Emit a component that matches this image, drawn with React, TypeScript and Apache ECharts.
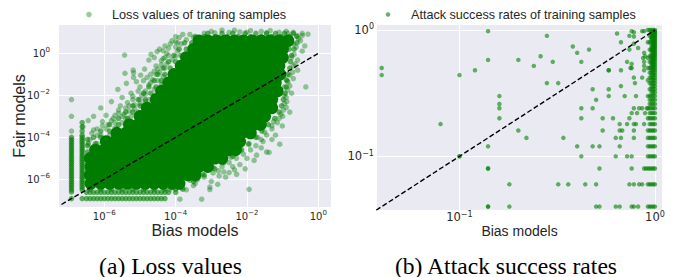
import React, { useEffect, useRef } from "react";
import * as echarts from "echarts";

const SANS = "'Liberation Sans', Arial, Helvetica, sans-serif";
const MATH = "'DejaVu Sans', sans-serif";
const SERIF = "'Liberation Serif', 'Times New Roman', serif";
const INK = "#262626";

// ---------------- (a) Loss values : values stored as log10 exponents ----------------
// saturated core of the cloud: [log10 fair, [log10 bias ...]]
const lossCoreRows: [number, number[]][] = [
  [0.6, [-3.35, -3.1, -2.85, -2.6, -2.35, -2.1, -1.85, -1.6, -1.35, -1.1, -0.85]],
  [0.2, [-3.5, -3.25, -3.0, -2.75, -2.5, -2.25, -2.0, -1.75, -1.5, -1.25, -1.0]],
  [-0.2, [-3.7, -3.45, -3.2, -2.95, -2.7, -2.45, -2.2, -1.95, -1.7, -1.45, -1.2, -1.0]],
  [-0.6, [-3.85, -3.6, -3.35, -3.1, -2.85, -2.6, -2.35, -2.1, -1.85, -1.6, -1.35, -1.1]],
  [-1.0, [-4.05, -3.8, -3.55, -3.3, -3.05, -2.8, -2.55, -2.3, -2.05, -1.8, -1.55, -1.3, -1.07]],
  [-1.4, [-4.2, -3.95, -3.7, -3.45, -3.2, -2.95, -2.7, -2.45, -2.2, -1.95, -1.7, -1.45, -1.2]],
  [-1.8, [-4.4, -4.15, -3.9, -3.65, -3.4, -3.15, -2.9, -2.65, -2.4, -2.15, -1.9, -1.65, -1.4, -1.15]],
  [-2.2, [-4.55, -4.3, -4.05, -3.8, -3.55, -3.3, -3.05, -2.8, -2.55, -2.3, -2.05, -1.8, -1.55, -1.3]],
  [-2.6, [-4.8, -4.55, -4.3, -4.05, -3.8, -3.55, -3.3, -3.05, -2.8, -2.55, -2.3, -2.05, -1.8, -1.55, -1.3]],
  [-3.0, [-5.0, -4.75, -4.5, -4.25, -4.0, -3.75, -3.5, -3.25, -3.0, -2.75, -2.5, -2.25, -2.0, -1.75, -1.5]],
  [-3.4, [-5.3, -5.05, -4.8, -4.55, -4.3, -4.05, -3.8, -3.55, -3.3, -3.05, -2.8, -2.55, -2.3, -2.05, -1.8, -1.62]],
  [-3.8, [-5.65, -5.4, -5.15, -4.9, -4.65, -4.4, -4.15, -3.9, -3.65, -3.4, -3.15, -2.9, -2.65, -2.4, -2.15, -1.9]],
  [-4.2, [-5.95, -5.7, -5.45, -5.2, -4.95, -4.7, -4.45, -4.2, -3.95, -3.7, -3.45, -3.2, -2.95, -2.7, -2.45, -2.2]],
  [-4.6, [-6.25, -6.0, -5.75, -5.5, -5.25, -5.0, -4.75, -4.5, -4.25, -4.0, -3.75, -3.5, -3.25, -3.0, -2.75, -2.5, -2.32]],
  [-5.0, [-6.4, -6.15, -5.9, -5.65, -5.4, -5.15, -4.9, -4.65, -4.4, -4.15, -3.9, -3.65, -3.4, -3.15, -2.9, -2.7]],
  [-5.4, [-6.38, -6.1, -5.85, -5.6, -5.35, -5.1, -4.85, -4.6, -4.35, -4.1, -3.85, -3.6, -3.35, -3.1]],
  [-5.8, [-6.4, -6.15, -5.9, -5.65, -5.4, -5.15, -4.9, -4.65, -4.4, -4.15, -3.9, -3.65, -3.45]],
  [-6.2, [-6.38, -6.1, -5.85, -5.6, -5.35, -5.1, -4.85, -4.6, -4.35, -4.1, -3.9]],
];

// dense rim of the cloud and the floor rows: [log10 fair, [log10 bias ...]]
const lossRimRows: [number, number[]][] = [
  [0.95, [-3.1, -2.7, -2.4, -2.05, -1.75, -1.45, -1.2, -0.95, -0.7]],
  [0.8, [-3.45, -3.2, -2.9, -2.55, -2.25, -1.9, -1.6, -1.3, -1.05, -0.8, -0.6]],
  [0.5, [-3.75, -3.55, -0.6, -0.75]],
  [0.2, [-3.9, -3.7, -0.68, -0.82]],
  [-0.1, [-4.05, -3.85, -0.75]],
  [-0.4, [-4.2, -4.0, -0.78]],
  [-0.7, [-4.35, -4.15, -0.8]],
  [-1.0, [-4.5, -4.3, -0.85]],
  [-1.3, [-4.6, -4.4, -0.88]],
  [-1.6, [-4.75, -4.55, -0.9]],
  [-1.9, [-4.9, -4.7, -0.93]],
  [-2.2, [-5.05, -4.85, -0.98]],
  [-2.5, [-5.2, -5.0, -1.03]],
  [-2.8, [-5.4, -5.2, -1.1]],
  [-3.1, [-5.6, -5.35, -1.22]],
  [-3.4, [-5.85, -5.6, -1.4]],
  [-3.7, [-6.1, -5.85, -1.58]],
  [-4.0, [-6.3, -6.1, -1.75]],
  [-4.3, [-6.45, -6.25, -1.95]],
  [-4.6, [-2.15]],
  [-4.9, [-2.4]],
  [-5.2, [-2.65]],
  [-5.5, [-2.9]],
  [-5.8, [-3.2]],
  [-6.1, [-3.5]],
  [-6.35, [-3.85]],
  [-6.47, [-6.4, -6.1, -5.8, -5.5, -5.2, -4.9, -4.6, -4.3, -4.0, -3.8]],
  [-6.62, [-6.5, -6.4, -6.3, -6.2, -6.1, -6.0, -5.9, -5.8, -5.7, -5.6, -5.5, -5.4, -5.3, -5.2, -5.1, -5.0, -4.9, -4.8, -4.7, -4.6, -4.5, -4.4, -4.3, -4.2, -4.0]],
  [-6.92, [-6.92, -6.62, -6.5, -6.4, -6.3, -6.2, -6.1, -6.0, -5.9, -5.8, -5.7, -5.6, -5.5, -5.4, -5.3, -5.2, -5.1, -5.0, -4.9, -4.8, -4.7, -4.6, -4.5, -4.4, -4.3]],
];

// floor columns of the bias model: [log10 bias, [log10 fair ...]]
const lossFloorColumns: [number, number[]][] = [
  [-6.92, [-6.6, -6.5, -6.4, -6.3, -6.2, -6.1, -6.0, -5.9, -5.8, -5.7, -5.6, -5.5, -5.4, -5.3, -5.2, -5.1, -5.0, -4.9, -4.8, -4.7, -4.6, -4.5, -4.4, -4.3, -4.2, -4.1, -4.0]],
  [-6.62, [-6.5, -6.4, -6.3, -6.2, -6.1, -6.0, -5.9, -5.8, -5.7, -5.6, -5.5, -5.4, -5.3, -5.2, -5.1, -5.0, -4.9, -4.8, -4.7, -4.6, -4.5, -4.4, -4.3, -4.2, -4.1, -4.0, -3.9, -3.7, -3.5, -3.3]],
  [-6.47, [-6.2, -5.9, -5.6, -5.3, -5.0, -4.7, -4.4, -4.1]],
];

// isolated samples around the cloud: [log10 bias, log10 fair]
const lossSparse: [number, number][] = [
  [-6.92, -2.2], [-6.92, -3.0], [-6.92, -3.7],
  [-5.43, -0.08], [-5.42, -0.95], [-5.62, -1.72], [-5.18, -0.93], [-5.18, -1.15], [-5.38, -1.43], [-4.98, -1.04],
  [-4.75, -0.32], [-4.69, -0.05], [-4.52, 0.08], [-4.35, 0.12], [-4.87, -0.75], [-5.19, -0.8],
  [-4.55, -0.6], [-4.4, -0.35], [-4.6, -0.2], [-4.45, -0.9], [-4.7, -1.0], [-4.3, -0.7], [-4.3, 0.35], [-4.0, 0.3], [-4.2, -0.1],
  [-3.6, 0.9], [-3.9, 0.75], [-4.1, 0.6], [-3.85, 0.45],
  [-4.9, -1.3], [-5.0, -1.6], [-4.75, -1.5], [-4.85, -1.8], [-5.25, -1.9], [-4.95, -2.0], [-5.1, -1.35],
  [-5.8, -2.3], [-5.5, -2.1], [-5.3, -2.5], [-5.6, -2.7], [-5.2, -2.2], [-5.45, -2.9], [-6.1, -2.6], [-5.15, -2.65], [-5.35, -2.35],
  [-5.95, -2.95], [-5.75, -3.1], [-6.3, -3.0], [-6.45, -3.2], [-6.2, -3.6], [-5.9, -3.4], [-6.05, -3.25], [-6.35, -3.8], [-5.7, -3.55], [-6.6, -3.5],
  [-3.95, 0.1], [-4.1, -0.3], [-4.25, -0.5], [-4.0, -0.15], [-4.15, 0.45], [-3.7, 0.65], [-3.5, 0.75], [-4.35, -1.1], [-4.5, -1.3],
  [-4.6, -1.7], [-4.4, -1.5], [-4.75, -2.2], [-4.6, -2.0], [-4.9, -2.5], [-5.05, -2.8], [-4.85, -2.3], [-5.25, -3.0], [-5.5, -3.3],
  [-5.4, -3.1], [-5.65, -3.6], [-5.85, -3.9], [-6.0, -4.1], [-6.2, -4.3], [-6.1, -3.9], [-5.55, -2.5], [-5.7, -2.95], [-5.0, -2.4],
  [-4.65, -1.25], [-4.5, -0.75], [-4.3, -0.2], [-4.45, 0.2], [-3.8, 0.9], [-4.0, 0.8],
  [-4.0, 0.55], [-4.25, 0.0], [-4.4, -0.55], [-4.55, -1.0], [-4.7, -1.4], [-4.85, -1.95], [-5.0, -2.2], [-5.15, -2.45], [-5.3, -2.75],
  [-5.5, -3.0], [-5.7, -3.3], [-5.95, -3.6], [-6.2, -3.9], [-6.4, -4.1], [-3.95, 0.5], [-4.2, 0.25], [-4.35, -0.25], [-4.6, -0.85],
  [-4.8, -1.15], [-5.05, -1.8], [-5.2, -2.05], [-5.4, -2.6], [-5.6, -2.85], [-5.8, -3.2], [-6.05, -3.45], [-6.3, -3.65],
  [-3.2, 0.95], [-2.9, 0.98], [-2.5, 1.0], [-2.2, 1.02], [-1.9, 1.08], [-1.6, 1.05], [-1.35, 1.08], [-1.1, 1.0], [-0.9, 1.05], [-0.7, 1.0], [-0.29, 0.91], [-0.6, 0.85],
  [-3.0, 1.05], [-2.7, 1.1], [-2.35, 1.1], [-2.0, 1.0], [-1.45, 0.98], [-0.85, 0.95], [-0.45, 0.95],
  [-0.38, 0.35], [-0.45, 0.1], [-0.5, 0.6], [-0.58, -0.32], [-0.58, -0.8], [-0.65, -0.5], [-0.75, -0.2], [-0.7, -1.2], [-0.8, -1.04], [-0.85, -1.36], [-0.75, -1.9], [-0.86, -1.75], [-0.95, -1.6], [-0.35, -1.6],
  [-0.9, -2.1], [-0.95, -2.4], [-0.9, -2.58], [-0.8, -2.8], [-1.0, -3.0], [-1.1, -3.1], [-1.01, -3.46], [-1.2, -3.9], [-1.08, -4.33], [-1.3, -4.1], [-1.55, -4.2],
  [-1.45, -4.7], [-1.38, -4.72], [-1.6, -4.5], [-1.73, -4.85], [-1.8, -5.1], [-2.0, -5.0], [-2.2, -5.3], [-2.4, -5.4], [-2.29, -5.76], [-2.5, -5.68], [-2.6, -5.9],
  [-2.78, -5.84], [-2.8, -5.6], [-3.0, -6.1], [-2.82, -6.24], [-3.39, -6.01], [-3.04, -6.37], [-3.04, -6.49], [-3.5, -6.3], [-3.7, -6.5], [-4.16, -6.48], [-1.94, -6.48],
  [-1.05, -2.9], [-1.15, -3.3], [-1.3, -3.6], [-1.45, -3.9], [-1.6, -4.1], [-1.75, -4.4], [-1.9, -4.6], [-2.1, -4.8], [-2.3, -5.0],
  [-2.5, -5.2], [-2.7, -5.4], [-2.95, -5.7], [-3.2, -5.9], [-3.45, -6.2], [-3.8, -6.4], [-2.05, -5.5], [-2.35, -5.55], [-2.65, -5.65],
  [-1.25, -3.25], [-0.95, -2.0], [-0.9, -1.25], [-0.7, -0.6], [-0.62, 0.3], [-0.55, 0.7], [-0.45, 0.85],
  [-1.3, -3.45], [-1.5, -3.75], [-1.7, -4.0], [-1.95, -4.35], [-2.2, -4.6], [-2.45, -4.95], [-2.7, -5.2], [-2.95, -5.45], [-3.25, -5.75],
  [-3.6, -6.05], [-4.0, -6.3], [-0.7, 0.45], [-0.68, -0.05], [-0.72, -0.9], [-0.8, -1.55], [-0.88, -2.3], [-0.98, -2.7],
  [-3.27, -6.95], [-3.88, -6.95],
];
const lossDiagonal = [6.3e-8, 1];
const lossTicks = [1e-6, 1e-4, 1e-2, 1];

// ---------------- (b) Attack success rates ----------------
const asrScatter: [number, number][] = [
  [0.04, 0.5], [0.04, 0.44], [0.1, 0.44], [0.12, 0.48], [0.14, 0.98], [0.14, 0.58],
  [0.2, 0.58], [0.24, 0.52], [0.26, 0.62], [0.28, 0.9], [0.3, 0.56], [0.38, 0.74],
  [0.4, 0.66], [0.42, 0.56], [0.46, 0.7], [0.28, 0.38], [0.32, 0.38],
  [0.16, 0.3], [0.16, 0.26], [0.16, 0.24], [0.16, 0.2], [0.08, 0.18],
  [0.64, 0.94], [0.67, 0.8], [0.74, 0.7], [0.58, 0.48], [0.58, 0.48], [0.67, 0.48],
  [0.48, 0.34], [0.58, 0.34], [0.42, 0.24], [0.48, 0.24], [0.58, 0.3], [0.7, 0.3], [0.5, 0.28],
  [0.42, 0.2], [0.54, 0.2], [0.61, 0.2], [0.74, 0.2], [0.67, 0.36], [0.8, 0.3],
  [0.2, 0.16], [0.54, 0.16], [0.66, 0.16], [0.68, 0.16], [0.78, 0.16],
  [0.22, 0.14], [0.34, 0.14], [0.63, 0.14], [0.67, 0.14], [0.78, 0.14],
  [0.66, 0.18], [0.72, 0.18], [0.78, 0.18], [0.8, 0.18], [0.88, 0.18],
  [0.76, 0.22], [0.81, 0.22], [0.89, 0.22],
  [0.78, 0.24], [0.83, 0.24], [0.86, 0.24], [0.91, 0.24],
  [0.79, 0.38], [0.78, 0.42], [0.86, 0.42],
  [0.88, 0.48], [0.75, 0.5], [0.76, 0.5], [0.88, 0.52], [0.76, 0.54],
  [0.72, 0.56], [0.88, 0.56], [0.87, 0.6], [0.89, 0.62], [0.88, 0.66], [0.82, 0.72], [0.78, 0.78],
  [0.74, 0.9], [0.78, 0.89], [0.78, 0.96], [0.76, 0.98], [0.86, 0.98], [0.88, 0.98],
  [0.14, 0.12], [0.4, 0.12], [0.48, 0.12], [0.52, 0.12], [0.66, 0.12],
  [0.1, 0.1], [0.1, 0.1], [0.42, 0.1], [0.63, 0.1], [0.72, 0.1], [0.76, 0.1],
  [0.14, 0.08], [0.14, 0.08], [0.52, 0.08], [0.76, 0.08], [0.88, 0.08], [0.9, 0.08],
  [0.18, 0.06], [0.32, 0.06], [0.36, 0.06], [0.44, 0.06], [0.5, 0.06], [0.74, 0.06], [0.78, 0.06], [0.83, 0.06], [0.86, 0.06],
  [0.14, 0.04], [0.14, 0.04], [0.18, 0.04], [0.5, 0.04], [0.52, 0.04], [0.63, 0.04], [0.66, 0.04], [0.76, 0.04], [0.78, 0.04], [0.82, 0.04],
];
const asrAllRates = [0.04, 0.06, 0.08, 0.1, 0.12, 0.14, 0.16, 0.18, 0.2, 0.22, 0.24, 0.26, 0.28, 0.3, 0.32, 0.34, 0.36, 0.38, 0.4, 0.42, 0.44, 0.46, 0.48, 0.5, 0.52, 0.54, 0.56, 0.58, 0.6, 0.62, 0.64, 0.66, 0.68, 0.7, 0.72, 0.74, 0.76, 0.78, 0.8, 0.82, 0.84, 0.86, 0.88, 0.9, 0.92, 0.94, 0.96, 0.98, 1.0];
const asrColumns: [number, number[]][] = [
  [1.0, asrAllRates],
  [0.98, asrAllRates],
  [0.96, [0.04, 0.06, 0.08, 0.1, 0.12, 0.14, 0.16, 0.18, 0.2, 0.22, 0.24, 0.26, 0.28, 0.3, 0.32, 0.34, 0.36, 0.38, 0.4, 0.42, 0.44, 0.46, 0.48, 0.5, 0.52, 0.54, 0.56, 0.58, 0.6, 0.62, 0.64, 0.68, 0.7, 0.72, 0.76, 0.8, 0.84, 0.86, 0.88, 0.92, 0.96, 1.0]],
  [0.94, [0.04, 0.06, 0.08, 0.1, 0.12, 0.14, 0.16, 0.18, 0.2, 0.22, 0.24, 0.26, 0.28, 0.3, 0.34, 0.38, 0.42, 0.46, 0.5, 0.56, 0.62, 0.7, 0.8, 0.9, 1.0]],
  [0.92, [0.04, 0.06, 0.08, 0.1, 0.12, 0.14, 0.16, 0.2, 0.24, 0.3, 0.4, 0.5, 0.6, 0.8, 1.0]],
];
const asrDiagonal = [0.03, 1];
const asrTicks = [0.1, 1];

const LOSS_NAME = "Loss values of traning samples";
const ASR_NAME = "Attack success rates of training samples";

const pow10 = (e: number) => Math.pow(10, e);
const fromRows = (rows: [number, number[]][]) =>
  rows.flatMap(([y, xs]) => xs.map((x) => [pow10(x), pow10(y)]));
const fromCols = (cols: [number, number[]][]) =>
  cols.flatMap(([x, ys]) => ys.map((y) => [pow10(x), pow10(y)]));

function supLabel(v: number) {
  const e = Math.round(Math.log10(v));
  return `{b|10}{s|${e < 0 ? "\u2212" + -e : e}}`;
}
function rich(size: number) {
  return {
    b: { fontSize: size, fontFamily: MATH, color: INK, lineHeight: size + 3 },
    s: { fontSize: size * 0.7, fontFamily: MATH, color: INK, lineHeight: size * 0.6, verticalAlign: "top" },
  };
}

function logAxis(o: any) {
  return {
    type: "log",
    logBase: 10,
    gridIndex: o.grid,
    min: o.min,
    max: o.max,
    axisLine: { show: false },
    axisTick: { show: false, customValues: o.ticks },
    axisLabel: {
      customValues: o.ticks,
      formatter: supLabel,
      rich: rich(o.size),
      fontSize: o.size,
      color: INK,
      fontFamily: MATH,
      margin: o.margin,
    },
    splitLine: { show: true, lineStyle: { color: "#ffffff", width: 1 } },
    minorSplitLine: { show: false },
    name: o.name || "",
    nameLocation: "middle",
    nameGap: o.nameGap || 0,
    nameMoveOverlap: false,
    nameTextStyle: { fontSize: o.nameSize || 14, color: INK, fontFamily: SANS },
  };
}

function dots(name: string, axis: number, size: number, color: string, data: number[][]) {
  return {
    name, type: "scatter", xAxisIndex: axis, yAxisIndex: axis, silent: true,
    symbol: "circle", symbolSize: size,
    itemStyle: { color, opacity: 1, borderWidth: 0 },
    emphasis: { disabled: true },
    data,
  };
}

function buildOption() {
  const dash = { color: "#000000", width: 1.4, type: [5, 2.5] };
  return {
    animation: false,
    textStyle: { fontFamily: SANS },
    grid: [
      { left: 59, top: 25, width: 272, height: 182, show: true, backgroundColor: "#EAEAF2", borderWidth: 0, containLabel: false, outerBoundsMode: "none" },
      { left: 377, top: 25, width: 285, height: 185, show: true, backgroundColor: "#EAEAF2", borderWidth: 0, containLabel: false, outerBoundsMode: "none" },
    ],
    xAxis: [
      logAxis({ grid: 0, min: pow10(-7.27), max: pow10(0.356), ticks: lossTicks, size: 10, margin: 2.5, name: "Bias models", nameGap: 15.5, nameSize: 16 }),
      logAxis({ grid: 1, min: pow10(-1.422), max: pow10(0.036), ticks: asrTicks, size: 11.5, margin: 0, name: "Bias models", nameGap: 14, nameSize: 14 }),
    ],
    yAxis: [
      logAxis({ grid: 0, min: pow10(-7.32), max: pow10(1.35), ticks: lossTicks, size: 10, margin: 9, name: "Fair models", nameGap: 31.5, nameSize: 16 }),
      logAxis({ grid: 1, min: pow10(-1.425), max: pow10(0.04), ticks: asrTicks, size: 11.5, margin: 3 }),
    ],
    legend: [
      {
        data: [{ name: LOSS_NAME, icon: "circle", itemStyle: { color: "rgba(0,128,0,0.4)", opacity: 1 } }],
        left: 86.25, top: 8, padding: 0, itemWidth: 36, itemHeight: 5.5, selectedMode: false,
        textStyle: { fontSize: 12.7, color: INK, fontFamily: SANS },
      },
      {
        data: [{ name: ASR_NAME, icon: "circle", itemStyle: { color: "rgba(0,128,0,0.6)", opacity: 1 } }],
        left: 385.75, top: 8, padding: 0, itemWidth: 36, itemHeight: 4.5, selectedMode: false,
        textStyle: { fontSize: 12.6, color: INK, fontFamily: SANS },
      },
    ],
    series: [
      dots(LOSS_NAME, 0, 5.5, "rgba(0,128,0,0.4)", lossSparse.map(([x, y]) => [pow10(x), pow10(y)])),
      dots("loss-core", 0, 12.5, "rgb(0,124,0)", fromRows(lossCoreRows)),
      dots("loss-rim", 0, 5.5, "rgba(0,128,0,0.6)", [...fromRows(lossRimRows), ...fromCols(lossFloorColumns)]),
      {
        name: "loss-diag", type: "line", xAxisIndex: 0, yAxisIndex: 0, silent: true,
        symbol: "none", lineStyle: dash, clip: true, z: 5,
        data: lossDiagonal.map((v) => [v, v]),
      },
      dots(ASR_NAME, 1, 4.5, "rgba(0,128,0,0.6)", [...asrScatter, ...asrColumns.flatMap(([x, ys]) => ys.map((y) => [x, y]))]),
      {
        name: "asr-diag", type: "line", xAxisIndex: 1, yAxisIndex: 1, silent: true,
        symbol: "none", lineStyle: dash, clip: true, z: 5,
        data: asrDiagonal.map((v) => [v, v]),
      },
    ],
    graphic: [
      { type: "text", x: 170.5, y: 265.5, style: { text: "(a) Loss values", fontSize: 23.6, fontFamily: SERIF, fill: "#000", align: "center", verticalAlign: "middle" } },
      { type: "text", x: 506, y: 265.5, style: { text: "(b) Attack success rates", fontSize: 23.6, fontFamily: SERIF, fill: "#000", align: "center", verticalAlign: "middle" } },
    ],
  };
}

export default function App() {
  const ref = useRef<HTMLDivElement>(null);
  useEffect(() => {
    if (!ref.current) return;
    const chart = echarts.init(ref.current, null, { renderer: "svg" });
    chart.setOption(buildOption() as any);
    return () => chart.dispose();
  }, []);
  return (
    <div
      ref={ref}
      style={{ position: "absolute", left: 0, top: 0, width: 674, height: 277, background: "#ffffff" }}
    />
  );
}
